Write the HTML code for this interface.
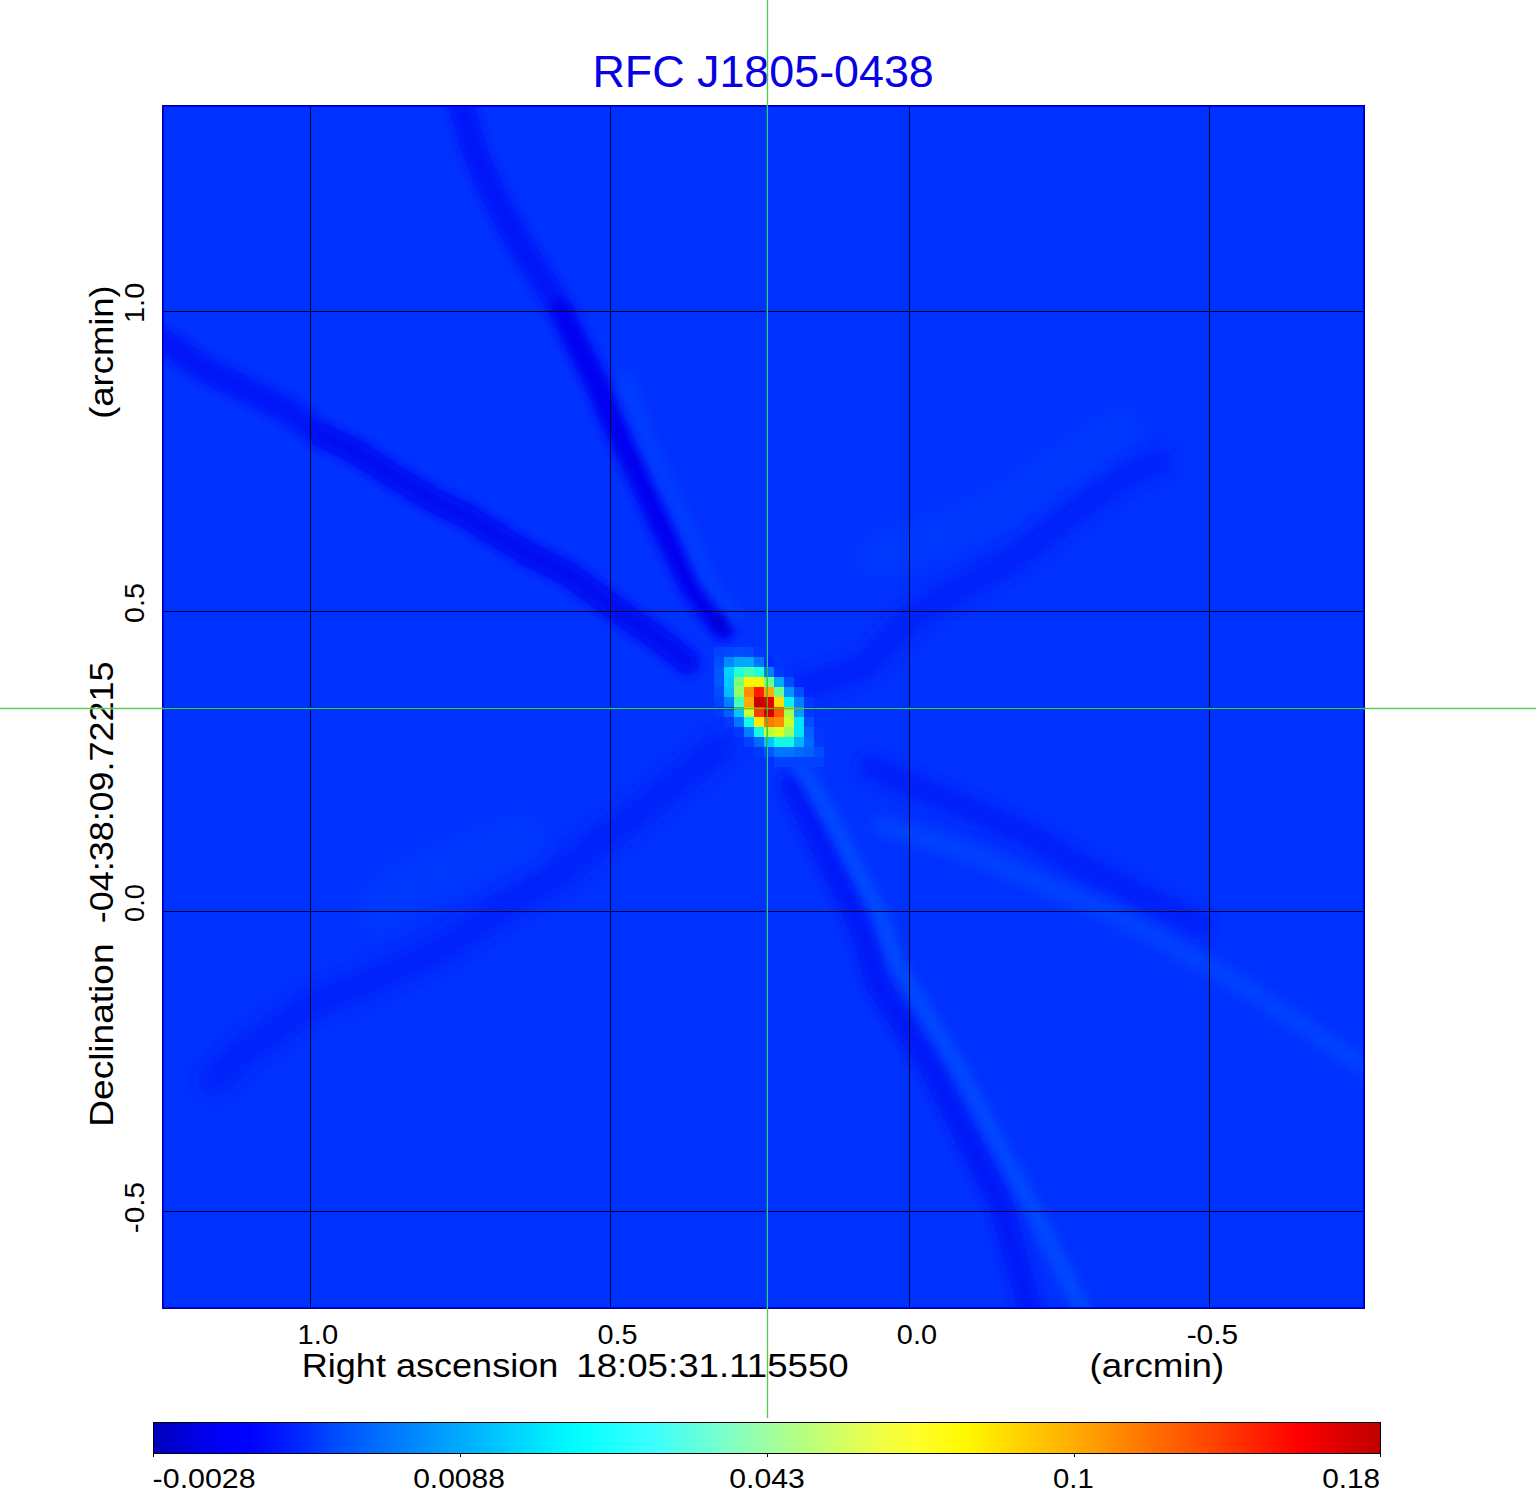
<!DOCTYPE html>
<html><head><meta charset="utf-8"><title>RFC J1805-0438</title>
<style>
html,body{margin:0;padding:0;background:#fff;width:1536px;height:1511px;overflow:hidden}
svg{display:block}
text{font-family:"Liberation Sans",sans-serif}
</style></head><body>
<svg width="1536" height="1511" viewBox="0 0 1536 1511">
<defs><clipPath id="pc"><rect x="162" y="105" width="1203" height="1204"/></clipPath><filter id="b4" filterUnits="userSpaceOnUse" x="100" y="50" width="1336" height="1320"><feGaussianBlur stdDeviation="4"/></filter><filter id="b5" filterUnits="userSpaceOnUse" x="100" y="50" width="1336" height="1320"><feGaussianBlur stdDeviation="5"/></filter><filter id="b6" filterUnits="userSpaceOnUse" x="100" y="50" width="1336" height="1320"><feGaussianBlur stdDeviation="6"/></filter><filter id="b7" filterUnits="userSpaceOnUse" x="100" y="50" width="1336" height="1320"><feGaussianBlur stdDeviation="7"/></filter><filter id="b8" filterUnits="userSpaceOnUse" x="100" y="50" width="1336" height="1320"><feGaussianBlur stdDeviation="8"/></filter><filter id="b9" filterUnits="userSpaceOnUse" x="100" y="50" width="1336" height="1320"><feGaussianBlur stdDeviation="9"/></filter><filter id="b10" filterUnits="userSpaceOnUse" x="100" y="50" width="1336" height="1320"><feGaussianBlur stdDeviation="10"/></filter><filter id="b12" filterUnits="userSpaceOnUse" x="100" y="50" width="1336" height="1320"><feGaussianBlur stdDeviation="12"/></filter><linearGradient id="jet" x1="0" y1="0" x2="1" y2="0"><stop offset="0.000" stop-color="rgb(0,0,185)"/><stop offset="0.031" stop-color="rgb(0,0,225)"/><stop offset="0.065" stop-color="rgb(0,0,255)"/><stop offset="0.080" stop-color="rgb(0,2,255)"/><stop offset="0.120" stop-color="rgb(0,40,255)"/><stop offset="0.152" stop-color="rgb(0,80,255)"/><stop offset="0.185" stop-color="rgb(0,110,255)"/><stop offset="0.217" stop-color="rgb(0,140,255)"/><stop offset="0.250" stop-color="rgb(0,170,255)"/><stop offset="0.283" stop-color="rgb(0,200,255)"/><stop offset="0.315" stop-color="rgb(0,230,255)"/><stop offset="0.340" stop-color="rgb(0,250,255)"/><stop offset="0.350" stop-color="rgb(5,255,255)"/><stop offset="0.407" stop-color="rgb(60,255,255)"/><stop offset="0.437" stop-color="rgb(90,255,225)"/><stop offset="0.462" stop-color="rgb(120,255,205)"/><stop offset="0.502" stop-color="rgb(160,255,160)"/><stop offset="0.527" stop-color="rgb(180,255,130)"/><stop offset="0.559" stop-color="rgb(210,255,100)"/><stop offset="0.592" stop-color="rgb(240,255,70)"/><stop offset="0.625" stop-color="rgb(255,255,40)"/><stop offset="0.662" stop-color="rgb(255,248,0)"/><stop offset="0.747" stop-color="rgb(255,175,0)"/><stop offset="0.815" stop-color="rgb(255,110,0)"/><stop offset="0.882" stop-color="rgb(255,50,0)"/><stop offset="0.933" stop-color="rgb(255,0,0)"/><stop offset="1.000" stop-color="rgb(190,0,0)"/></linearGradient></defs>
<rect width="1536" height="1511" fill="#fff"/>
<g clip-path="url(#pc)">
<rect x="162" y="105" width="1203" height="1204" fill="rgb(0,50,255)"/>
<polyline points="460,100 475,153 494,195 516,238 539,274 560,308 577,344 598,386 611,418 635,467 659,520 675,552 690,584 708,609 722,626" fill="none" stroke="rgb(0,22,248)" stroke-width="26" stroke-linejoin="round" stroke-linecap="round" opacity="1.0" filter="url(#b5)"/>
<polyline points="560,308 577,344 598,386 611,418 635,467 659,520 675,552 690,584 708,609 724,630" fill="none" stroke="rgb(0,6,240)" stroke-width="18" stroke-linejoin="round" stroke-linecap="round" opacity="1.0" filter="url(#b4)"/>
<polyline points="625,380 632,400 654,459 682,518 706,578 734,618" fill="none" stroke="rgb(0,64,255)" stroke-width="16" stroke-linejoin="round" stroke-linecap="round" opacity="0.9" filter="url(#b6)"/>
<polyline points="150,336 175,348 204,369 247,390 289,411 321,435 353,450 395,477 437,502 469,517 482,526 525,552 567,573 601,598 631,620 653,635 674,651 688,663" fill="none" stroke="rgb(0,24,248)" stroke-width="26" stroke-linejoin="round" stroke-linecap="round" opacity="1.0" filter="url(#b5)"/>
<polyline points="321,435 353,450 395,477 437,502 469,517 482,526 525,552 567,573 601,598 631,620 653,635 674,651 686,661" fill="none" stroke="rgb(0,8,241)" stroke-width="18" stroke-linejoin="round" stroke-linecap="round" opacity="1.0" filter="url(#b4)"/>
<polyline points="800,688 864,667 910,618 951,594 1020,555 1072,513 1124,476 1160,462" fill="none" stroke="rgb(0,28,249)" stroke-width="26" stroke-linejoin="round" stroke-linecap="round" opacity="0.8" filter="url(#b8)"/>
<polyline points="880,555 940,535 1000,510 1060,470 1120,430" fill="none" stroke="rgb(0,60,255)" stroke-width="36" stroke-linejoin="round" stroke-linecap="round" opacity="0.8" filter="url(#b10)"/>
<polyline points="721,746 641,810 600,840 562,872 500,910 448,945 400,968 357,987 313,1002 279,1028 240,1054 214,1080" fill="none" stroke="rgb(0,30,249)" stroke-width="28" stroke-linejoin="round" stroke-linecap="round" opacity="0.8" filter="url(#b9)"/>
<polyline points="380,905 420,880 470,860 520,840" fill="none" stroke="rgb(0,62,255)" stroke-width="40" stroke-linejoin="round" stroke-linecap="round" opacity="0.8" filter="url(#b12)"/>
<polyline points="792,785 812,825 831,865 851,905 867,944 877,984 930,1065 1001,1205 1030,1309" fill="none" stroke="rgb(0,24,247)" stroke-width="24" stroke-linejoin="round" stroke-linecap="round" opacity="0.9" filter="url(#b6)"/>
<polyline points="798,762 818,795 840,835 860,875 880,914 897,964 957,1065 1041,1225 1085,1315" fill="none" stroke="rgb(0,72,255)" stroke-width="16" stroke-linejoin="round" stroke-linecap="round" opacity="1.0" filter="url(#b5)"/>
<polyline points="871,766 921,789 970,809 1030,835 1081,866 1200,925" fill="none" stroke="rgb(0,30,250)" stroke-width="24" stroke-linejoin="round" stroke-linecap="round" opacity="0.9" filter="url(#b7)"/>
<polyline points="882,826 960,849 1001,866 1121,917 1241,985 1370,1070" fill="none" stroke="rgb(0,66,255)" stroke-width="18" stroke-linejoin="round" stroke-linecap="round" opacity="1.0" filter="url(#b6)"/>
<circle cx="719" cy="622" r="7" fill="rgb(0,0,200)" filter="url(#b4)"/>
<rect x="714" y="647" width="10" height="10" fill="rgb(0,66,255)"/>
<rect x="724" y="647" width="10" height="10" fill="rgb(0,71,255)"/>
<rect x="734" y="647" width="10" height="10" fill="rgb(0,77,255)"/>
<rect x="744" y="647" width="10" height="10" fill="rgb(0,71,255)"/>
<rect x="754" y="647" width="10" height="10" fill="rgb(0,56,255)"/>
<rect x="714" y="657" width="10" height="10" fill="rgb(0,77,255)"/>
<rect x="724" y="657" width="10" height="10" fill="rgb(0,138,255)"/>
<rect x="734" y="657" width="10" height="10" fill="rgb(0,168,255)"/>
<rect x="744" y="657" width="10" height="10" fill="rgb(0,168,255)"/>
<rect x="754" y="657" width="10" height="10" fill="rgb(0,117,255)"/>
<rect x="764" y="657" width="10" height="10" fill="rgb(0,41,255)"/>
<rect x="714" y="667" width="10" height="10" fill="rgb(0,87,255)"/>
<rect x="724" y="667" width="10" height="10" fill="rgb(0,209,255)"/>
<rect x="734" y="667" width="10" height="10" fill="rgb(33,255,214)"/>
<rect x="744" y="667" width="10" height="10" fill="rgb(66,255,181)"/>
<rect x="754" y="667" width="10" height="10" fill="rgb(33,255,214)"/>
<rect x="764" y="667" width="10" height="10" fill="rgb(0,128,255)"/>
<rect x="774" y="667" width="10" height="10" fill="rgb(0,56,255)"/>
<rect x="714" y="677" width="10" height="10" fill="rgb(0,87,255)"/>
<rect x="724" y="677" width="10" height="10" fill="rgb(0,199,255)"/>
<rect x="734" y="677" width="10" height="10" fill="rgb(123,255,123)"/>
<rect x="744" y="677" width="10" height="10" fill="rgb(247,246,0)"/>
<rect x="754" y="677" width="10" height="10" fill="rgb(247,246,0)"/>
<rect x="764" y="677" width="10" height="10" fill="rgb(107,255,140)"/>
<rect x="774" y="677" width="10" height="10" fill="rgb(0,168,255)"/>
<rect x="784" y="677" width="10" height="10" fill="rgb(0,77,255)"/>
<rect x="714" y="687" width="10" height="10" fill="rgb(0,77,255)"/>
<rect x="724" y="687" width="10" height="10" fill="rgb(0,189,255)"/>
<rect x="734" y="687" width="10" height="10" fill="rgb(148,255,99)"/>
<rect x="744" y="687" width="10" height="10" fill="rgb(255,142,0)"/>
<rect x="754" y="687" width="10" height="10" fill="rgb(255,28,0)"/>
<rect x="764" y="687" width="10" height="10" fill="rgb(255,170,0)"/>
<rect x="774" y="687" width="10" height="10" fill="rgb(107,255,140)"/>
<rect x="784" y="687" width="10" height="10" fill="rgb(0,148,255)"/>
<rect x="794" y="687" width="10" height="10" fill="rgb(0,77,255)"/>
<rect x="714" y="697" width="10" height="10" fill="rgb(0,66,255)"/>
<rect x="724" y="697" width="10" height="10" fill="rgb(0,128,255)"/>
<rect x="734" y="697" width="10" height="10" fill="rgb(66,255,181)"/>
<rect x="744" y="697" width="10" height="10" fill="rgb(255,170,0)"/>
<rect x="754" y="697" width="10" height="10" fill="rgb(201,0,0)"/>
<rect x="764" y="697" width="10" height="10" fill="rgb(229,0,0)"/>
<rect x="774" y="697" width="10" height="10" fill="rgb(255,220,0)"/>
<rect x="784" y="697" width="10" height="10" fill="rgb(8,240,239)"/>
<rect x="794" y="697" width="10" height="10" fill="rgb(0,128,255)"/>
<rect x="804" y="697" width="10" height="10" fill="rgb(0,56,255)"/>
<rect x="714" y="707" width="10" height="10" fill="rgb(0,56,255)"/>
<rect x="724" y="707" width="10" height="10" fill="rgb(0,97,255)"/>
<rect x="734" y="707" width="10" height="10" fill="rgb(0,199,255)"/>
<rect x="744" y="707" width="10" height="10" fill="rgb(206,255,41)"/>
<rect x="754" y="707" width="10" height="10" fill="rgb(255,57,0)"/>
<rect x="764" y="707" width="10" height="10" fill="rgb(209,0,0)"/>
<rect x="774" y="707" width="10" height="10" fill="rgb(255,90,0)"/>
<rect x="784" y="707" width="10" height="10" fill="rgb(165,255,82)"/>
<rect x="794" y="707" width="10" height="10" fill="rgb(0,158,255)"/>
<rect x="804" y="707" width="10" height="10" fill="rgb(0,56,255)"/>
<rect x="724" y="717" width="10" height="10" fill="rgb(0,56,255)"/>
<rect x="734" y="717" width="10" height="10" fill="rgb(0,117,255)"/>
<rect x="744" y="717" width="10" height="10" fill="rgb(16,250,230)"/>
<rect x="754" y="717" width="10" height="10" fill="rgb(255,236,0)"/>
<rect x="764" y="717" width="10" height="10" fill="rgb(255,123,0)"/>
<rect x="774" y="717" width="10" height="10" fill="rgb(255,137,0)"/>
<rect x="784" y="717" width="10" height="10" fill="rgb(206,255,41)"/>
<rect x="794" y="717" width="10" height="10" fill="rgb(0,229,247)"/>
<rect x="804" y="717" width="10" height="10" fill="rgb(0,77,255)"/>
<rect x="734" y="727" width="10" height="10" fill="rgb(0,56,255)"/>
<rect x="744" y="727" width="10" height="10" fill="rgb(0,128,255)"/>
<rect x="754" y="727" width="10" height="10" fill="rgb(16,250,230)"/>
<rect x="764" y="727" width="10" height="10" fill="rgb(189,255,58)"/>
<rect x="774" y="727" width="10" height="10" fill="rgb(222,255,25)"/>
<rect x="784" y="727" width="10" height="10" fill="rgb(148,255,99)"/>
<rect x="794" y="727" width="10" height="10" fill="rgb(0,229,247)"/>
<rect x="804" y="727" width="10" height="10" fill="rgb(0,97,255)"/>
<rect x="814" y="727" width="10" height="10" fill="rgb(0,56,255)"/>
<rect x="744" y="737" width="10" height="10" fill="rgb(0,66,255)"/>
<rect x="754" y="737" width="10" height="10" fill="rgb(0,107,255)"/>
<rect x="764" y="737" width="10" height="10" fill="rgb(0,199,255)"/>
<rect x="774" y="737" width="10" height="10" fill="rgb(16,250,230)"/>
<rect x="784" y="737" width="10" height="10" fill="rgb(16,250,230)"/>
<rect x="794" y="737" width="10" height="10" fill="rgb(0,178,255)"/>
<rect x="804" y="737" width="10" height="10" fill="rgb(0,107,255)"/>
<rect x="814" y="737" width="10" height="10" fill="rgb(0,56,255)"/>
<rect x="754" y="747" width="10" height="10" fill="rgb(0,56,255)"/>
<rect x="764" y="747" width="10" height="10" fill="rgb(0,87,255)"/>
<rect x="774" y="747" width="10" height="10" fill="rgb(0,117,255)"/>
<rect x="784" y="747" width="10" height="10" fill="rgb(0,117,255)"/>
<rect x="794" y="747" width="10" height="10" fill="rgb(0,107,255)"/>
<rect x="804" y="747" width="10" height="10" fill="rgb(0,97,255)"/>
<rect x="814" y="747" width="10" height="10" fill="rgb(0,77,255)"/>
<rect x="774" y="757" width="10" height="10" fill="rgb(0,66,255)"/>
<rect x="784" y="757" width="10" height="10" fill="rgb(0,66,255)"/>
<rect x="794" y="757" width="10" height="10" fill="rgb(0,66,255)"/>
<rect x="804" y="757" width="10" height="10" fill="rgb(0,66,255)"/>
<rect x="814" y="757" width="10" height="10" fill="rgb(0,66,255)"/>
</g>
<line x1="310.5" y1="105" x2="310.5" y2="1309" stroke="#000028" stroke-width="1"/>
<line x1="610.5" y1="105" x2="610.5" y2="1309" stroke="#000028" stroke-width="1"/>
<line x1="909.5" y1="105" x2="909.5" y2="1309" stroke="#000028" stroke-width="1"/>
<line x1="1209.5" y1="105" x2="1209.5" y2="1309" stroke="#000028" stroke-width="1"/>
<line x1="162" y1="311.5" x2="1365" y2="311.5" stroke="#000028" stroke-width="1"/>
<line x1="162" y1="611.5" x2="1365" y2="611.5" stroke="#000028" stroke-width="1"/>
<line x1="162" y1="911.5" x2="1365" y2="911.5" stroke="#000028" stroke-width="1"/>
<line x1="162" y1="1211.5" x2="1365" y2="1211.5" stroke="#000028" stroke-width="1"/>
<rect x="162.5" y="105.5" width="1202" height="1203" fill="none" stroke="#00008c" stroke-width="1"/>
<rect x="163.5" y="106.5" width="1200" height="1201" fill="none" stroke="#0000ff" stroke-width="1"/>
<rect x="153" y="1422" width="1228" height="32" fill="url(#jet)"/>
<rect x="153.5" y="1422.5" width="1227" height="31" fill="none" stroke="#000" stroke-width="1"/>
<line x1="153.5" y1="1453.5" x2="153.5" y2="1457" stroke="#000" stroke-width="1"/>
<line x1="460.5" y1="1453.5" x2="460.5" y2="1457" stroke="#000" stroke-width="1"/>
<line x1="767.5" y1="1453.5" x2="767.5" y2="1457" stroke="#000" stroke-width="1"/>
<line x1="1074.5" y1="1453.5" x2="1074.5" y2="1457" stroke="#000" stroke-width="1"/>
<line x1="1380.5" y1="1453.5" x2="1380.5" y2="1457" stroke="#000" stroke-width="1"/>
<text x="592.41" y="86.90" font-size="44.2" textLength="341.40" lengthAdjust="spacingAndGlyphs" fill="rgb(8,0,228)" >RFC J1805-0438</text>
<text x="297.61" y="1343.60" font-size="28" textLength="40.51" lengthAdjust="spacingAndGlyphs" fill="#000" >1.0</text>
<text x="597.60" y="1343.60" font-size="28" textLength="40.06" lengthAdjust="spacingAndGlyphs" fill="#000" >0.5</text>
<text x="896.84" y="1343.60" font-size="28" textLength="40.17" lengthAdjust="spacingAndGlyphs" fill="#000" >0.0</text>
<text x="1186.65" y="1343.60" font-size="28" textLength="51.54" lengthAdjust="spacingAndGlyphs" fill="#000" >-0.5</text>
<text transform="translate(144.00,322.97) rotate(-90)" x="0" y="0" font-size="28" textLength="40.18" lengthAdjust="spacingAndGlyphs" fill="#000" >1.0</text>
<text transform="translate(144.00,622.95) rotate(-90)" x="0" y="0" font-size="28" textLength="39.79" lengthAdjust="spacingAndGlyphs" fill="#000" >0.5</text>
<text transform="translate(144.00,921.89) rotate(-90)" x="0" y="0" font-size="28" textLength="37.85" lengthAdjust="spacingAndGlyphs" fill="#000" >0.0</text>
<text transform="translate(144.00,1233.24) rotate(-90)" x="0" y="0" font-size="28" textLength="51.33" lengthAdjust="spacingAndGlyphs" fill="#000" >-0.5</text>
<text x="301.71" y="1376.80" font-size="33" textLength="256.64" lengthAdjust="spacingAndGlyphs" fill="#000" >Right ascension</text>
<text x="576.25" y="1376.80" font-size="33" textLength="272.45" lengthAdjust="spacingAndGlyphs" fill="#000" >18:05:31.115550</text>
<text x="1089.50" y="1376.80" font-size="33" textLength="134.67" lengthAdjust="spacingAndGlyphs" fill="#000" >(arcmin)</text>
<text transform="translate(113.30,1126.71) rotate(-90)" x="0" y="0" font-size="33" textLength="183.21" lengthAdjust="spacingAndGlyphs" fill="#000" >Declination</text>
<text transform="translate(113.30,923.32) rotate(-90)" x="0" y="0" font-size="33" textLength="261.93" lengthAdjust="spacingAndGlyphs" fill="#000" >-04:38:09.72215</text>
<text transform="translate(112.80,418.79) rotate(-90)" x="0" y="0" font-size="33" textLength="133.53" lengthAdjust="spacingAndGlyphs" fill="#000" >(arcmin)</text>
<text x="152.63" y="1487.90" font-size="28" textLength="103.03" lengthAdjust="spacingAndGlyphs" fill="#000" >-0.0028</text>
<text x="413.20" y="1487.90" font-size="28" textLength="91.66" lengthAdjust="spacingAndGlyphs" fill="#000" >0.0088</text>
<text x="729.29" y="1487.90" font-size="28" textLength="75.49" lengthAdjust="spacingAndGlyphs" fill="#000" >0.043</text>
<text x="1053.03" y="1487.90" font-size="28" textLength="40.69" lengthAdjust="spacingAndGlyphs" fill="#000" >0.1</text>
<text x="1322.21" y="1487.90" font-size="28" textLength="57.92" lengthAdjust="spacingAndGlyphs" fill="#000" >0.18</text>
<rect x="766" y="0" width="3" height="105" fill="rgb(170,235,170)" opacity="0.4"/>
<rect x="767" y="0" width="1" height="105" fill="rgb(85,200,85)"/>
<rect x="766" y="1309" width="3" height="109" fill="rgb(170,235,170)" opacity="0.4"/>
<rect x="767" y="1309" width="1" height="109" fill="rgb(85,200,85)"/>
<rect x="0" y="707" width="162" height="3" fill="rgb(170,235,170)" opacity="0.4"/>
<rect x="0" y="708" width="162" height="1" fill="rgb(85,200,85)"/>
<rect x="1365" y="707" width="171" height="3" fill="rgb(170,235,170)" opacity="0.4"/>
<rect x="1365" y="708" width="171" height="1" fill="rgb(85,200,85)"/>
<rect x="766" y="105" width="1" height="562" fill="rgb(0,105,125)"/>
<rect x="767" y="105" width="1" height="562" fill="rgb(40,195,195)"/>
<rect x="766" y="747" width="1" height="562" fill="rgb(0,105,125)"/>
<rect x="767" y="747" width="1" height="562" fill="rgb(40,195,195)"/>
<rect x="162" y="707" width="572" height="1" fill="rgb(0,55,170)"/>
<rect x="162" y="708" width="572" height="1" fill="rgb(45,185,200)"/>
<rect x="162" y="709" width="572" height="1" fill="rgb(0,80,125)"/>
<rect x="804" y="707" width="561" height="1" fill="rgb(0,55,170)"/>
<rect x="804" y="708" width="561" height="1" fill="rgb(45,185,200)"/>
<rect x="804" y="709" width="561" height="1" fill="rgb(0,80,125)"/>
<rect x="766" y="667" width="1" height="80" fill="rgb(40,150,30)" opacity="0.35"/>
<rect x="767" y="667" width="1" height="80" fill="rgb(70,195,30)" opacity="0.9"/>
<rect x="734" y="707" width="70" height="1" fill="rgb(120,150,20)" opacity="0.3"/>
<rect x="734" y="708" width="70" height="1" fill="rgb(140,170,20)" opacity="0.85"/>
<rect x="734" y="709" width="70" height="1" fill="rgb(120,150,20)" opacity="0.3"/>
</svg>
</body></html>
